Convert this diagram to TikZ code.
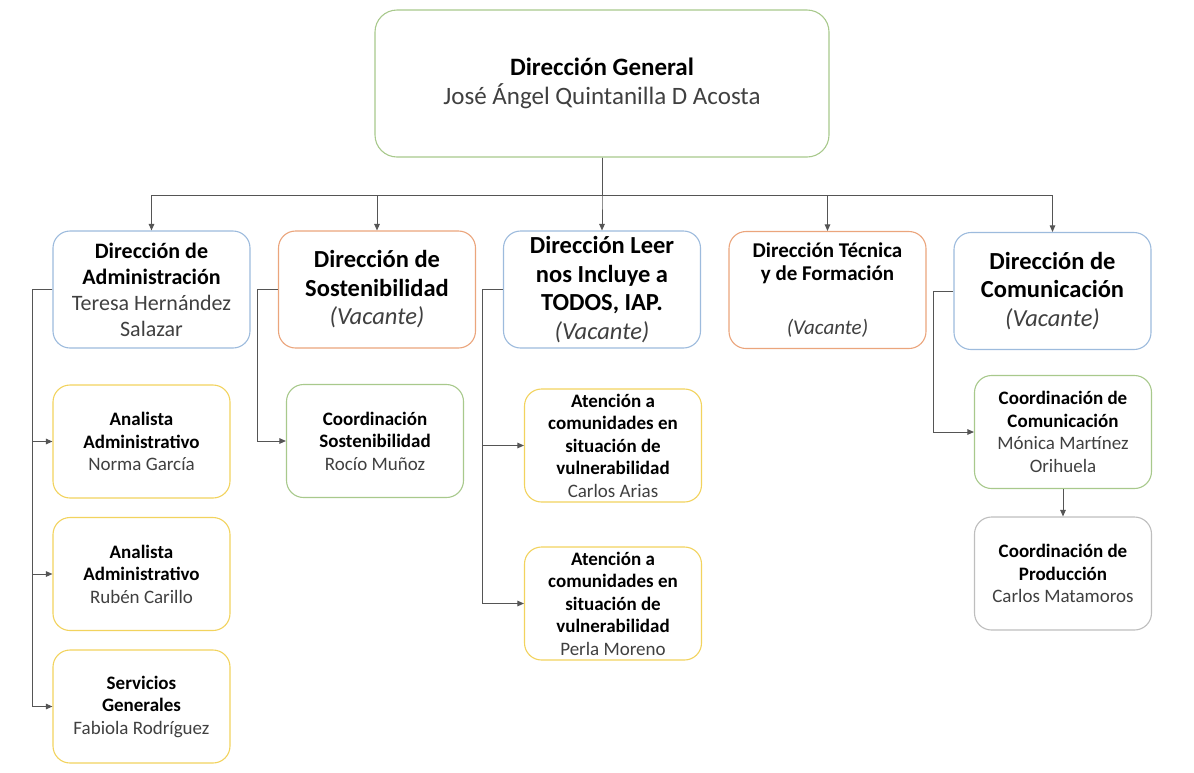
\documentclass[tikz,border=0pt]{standalone}
\usepackage{fontspec}
\setmainfont{Carlito}
\usetikzlibrary{arrows.meta,positioning}
\definecolor{lineblue}{HTML}{9DBBDD}
\definecolor{lineorange}{HTML}{EBA57C}
\definecolor{lineyellow}{HTML}{F2D35E}
\definecolor{linegreen}{HTML}{A8C98C}
\definecolor{linegray}{HTML}{BEBEBE}
\definecolor{linkgray}{HTML}{555555}
\definecolor{namegray}{HTML}{404040}
\newcommand{\who}[1]{\textcolor{namegray}{#1}}

\begin{document}
\begin{tikzpicture}[x=1pt,y=-1pt,>={Triangle[length=6.5pt,width=5.5pt]},
  box/.style={draw,line width=1.1pt,align=center,fill=white,inner sep=1pt},
  dir/.style={box,rounded corners=17pt,minimum width=197pt,minimum height=117pt},
  unit/.style={box,rounded corners=17pt,minimum width=177pt,minimum height=113pt},
  link/.style={draw=linkgray,line width=1pt,->},
  big/.style={font=\fontsize{24.5}{28.5}\selectfont},
  mid/.style={font=\fontsize{22}{26}\selectfont},
  small/.style={font=\fontsize{19}{22.5}\selectfont}]
  \useasboundingbox (0,0) rectangle (1194,772);

  % direccion general
  \node[box,draw=linegreen,rounded corners=22pt,minimum width=454pt,minimum height=147pt,
    font=\fontsize{25}{29}\selectfont]
    (dg) at (602,83.5) {\textbf{Dirección General}\\\who{José Ángel Quintanilla D Acosta}};

  % direcciones
  \node[dir,draw=lineblue,mid] (adm) at (151.5,289.5)
    {\textbf{Dirección de}\\\textbf{Administración}\\\who{Teresa Hernández}\\\who{Salazar}};
  \node[dir,draw=lineorange,big] (sos) at (377,289.5)
    {\textbf{Dirección de}\\\textbf{Sostenibilidad}\\\who{\textit{(Vacante)}}};
  \node[dir,draw=lineblue,big] (leer) at (602,289.5)
    {\textbf{Dirección Leer}\\\textbf{nos Incluye a}\\\textbf{TODOS, IAP.}\\\who{\textit{(Vacante)}}};
  \node[dir,draw=lineorange,font=\fontsize{21}{23}\selectfont] (tec) at (827.5,290)
    {\textbf{Dirección Técnica}\\\textbf{y de Formación}\\[31pt]\who{\textit{(Vacante)}}};
  \node[dir,draw=lineblue,big] (com) at (1052.5,291)
    {\textbf{Dirección de}\\\textbf{Comunicación}\\\who{\textit{(Vacante)}}};

  % administracion
  \node[unit,draw=lineyellow,small] (an1) at (141.5,441.5)
    {\textbf{Analista}\\\textbf{Administrativo}\\\who{Norma García}};
  \node[unit,draw=lineyellow,small] (an2) at (141.5,574)
    {\textbf{Analista}\\\textbf{Administrativo}\\\who{Rubén Carillo}};
  \node[unit,draw=lineyellow,small] (sg) at (141.5,706.5)
    {\textbf{Servicios}\\\textbf{Generales}\\\who{Fabiola Rodríguez}};

  % sostenibilidad
  \node[unit,draw=linegreen,small] (cs) at (375,441)
    {\textbf{Coordinación}\\\textbf{Sostenibilidad}\\\who{Rocío Muñoz}};

  % leer nos incluye
  \node[unit,draw=lineyellow,small] (at1) at (613,445.5)
    {\textbf{Atención a}\\\textbf{comunidades en}\\\textbf{situación de}\\\textbf{vulnerabilidad}\\\who{Carlos Arias}};
  \node[unit,draw=lineyellow,small] (at2) at (613,603.5)
    {\textbf{Atención a}\\\textbf{comunidades en}\\\textbf{situación de}\\\textbf{vulnerabilidad}\\\who{Perla Moreno}};

  % comunicacion
  \node[unit,draw=linegreen,small] (cc) at (1063,432)
    {\textbf{Coordinación de}\\\textbf{Comunicación}\\\who{Mónica Martínez}\\\who{Orihuela}};
  \node[unit,draw=linegray,small] (cp) at (1063,573.5)
    {\textbf{Coordinación de}\\\textbf{Producción}\\\who{Carlos Matamoros}};

  % conectores
  \foreach \d in {adm,sos,leer,tec,com}
    \draw[link] (dg.south) -- ++(0,38) -| (\d.north);
  \foreach \u in {an1,an2,sg}
    \draw[link] (adm.west) -- ++(-20,0) |- (\u.west);
  \draw[link] (sos.west) -- ++(-20,0) |- (cs.west);
  \foreach \u in {at1,at2}
    \draw[link] (leer.west) -- ++(-20,0) |- (\u.west);
  \draw[link] (com.west) -- ++(-20,0) |- (cc.west);
  \draw[link] (cc.south) -- (cp.north);
\end{tikzpicture}
\end{document}
